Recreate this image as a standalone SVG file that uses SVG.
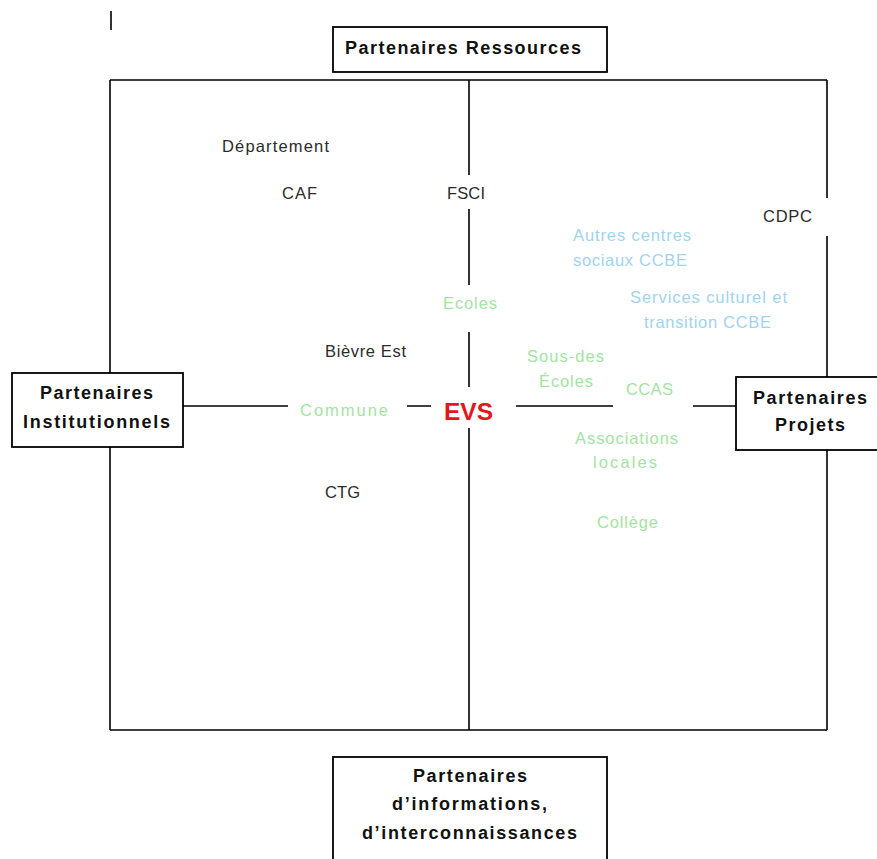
<svg xmlns="http://www.w3.org/2000/svg" width="877" height="859" viewBox="0 0 877 859">
<style>
.ln{stroke:#000;stroke-width:1.6;fill:none}
.box{fill:#fff;stroke:#000;stroke-width:1.8}
.h{font-family:"Liberation Sans",Arial,sans-serif;font-weight:bold;font-size:18px;fill:#111}
.t{font-family:"Liberation Sans",Arial,sans-serif;font-size:16.5px}
.k{fill:#2b2b2b}
.g{fill:#a3e4a3}
.b{fill:#9fd4f0}
.evs{font-family:"Liberation Sans",Arial,sans-serif;font-weight:bold;font-size:23px;fill:#e8141c}
</style>
<rect width="877" height="859" fill="#fff"/>
<g id="connectors">
<line class="ln" x1="111" y1="11" x2="111" y2="30"/>
<path class="ln" d="M110,80 H827 M110,730 H827"/>
<path class="ln" d="M110,80 V373 M110,447 V730"/>
<path class="ln" d="M827,80 V198 M827,236 V377 M827,450 V730"/>
<path class="ln" d="M469,80 V175 M469,209 V285 M469,332 V387 M469,428 V730"/>
<path class="ln" d="M183,406 H288 M407,406 H431 M516,406 H613 M693,406 H736"/>
</g>
<g id="node-ressources">
<rect class="box" x="333" y="27" width="274" height="45"/>
<text class="h" x="345" y="54" textLength="236" lengthAdjust="spacing" font-size="18.5">Partenaires Ressources</text>
</g>
<g id="node-institutionnels">
<rect class="box" x="12" y="373" width="171" height="74"/>
<text class="h" x="40" y="399" textLength="113" lengthAdjust="spacing">Partenaires</text>
<text class="h" x="23" y="428" textLength="147" lengthAdjust="spacing">Institutionnels</text>
</g>
<g id="node-projets">
<rect class="box" x="736" y="377" width="150" height="73"/>
<text class="h" x="753" y="404" textLength="114" lengthAdjust="spacing">Partenaires</text>
<text class="h" x="775" y="431" textLength="70" lengthAdjust="spacing">Projets</text>
</g>
<g id="node-informations">
<rect class="box" x="333" y="757" width="274" height="120"/>
<text class="h" x="413" y="782" textLength="114" lengthAdjust="spacing">Partenaires</text>
<text class="h" x="392" y="810" textLength="155" lengthAdjust="spacing">d’informations,</text>
<text class="h" x="362" y="839" textLength="215" lengthAdjust="spacing">d’interconnaissances</text>
</g>
<g id="node-evs">
<text class="evs" x="444" y="420" textLength="49" lengthAdjust="spacingAndGlyphs">EVS</text>
</g>
<g id="node-departement"><text class="t k" x="222" y="152" textLength="107" lengthAdjust="spacing">Département</text></g>
<g id="node-caf"><text class="t k" x="282" y="199" textLength="35" lengthAdjust="spacing">CAF</text></g>
<g id="node-fsci"><text class="t k" x="447" y="199" textLength="38" lengthAdjust="spacing">FSCI</text></g>
<g id="node-cdpc"><text class="t k" x="763" y="222" textLength="49" lengthAdjust="spacing">CDPC</text></g>
<g id="node-bievre"><text class="t k" x="325" y="357" textLength="81" lengthAdjust="spacing">Bièvre Est</text></g>
<g id="node-ctg"><text class="t k" x="325" y="498" textLength="35" lengthAdjust="spacing">CTG</text></g>
<g id="node-autres">
<text class="t b" x="573" y="241" textLength="118" lengthAdjust="spacing">Autres centres</text>
<text class="t b" x="573" y="266" textLength="114" lengthAdjust="spacing">sociaux CCBE</text>
</g>
<g id="node-services">
<text class="t b" x="630" y="303" textLength="157" lengthAdjust="spacing">Services culturel et</text>
<text class="t b" x="644" y="328" textLength="127" lengthAdjust="spacing">transition CCBE</text>
</g>
<g id="node-ecoles"><text class="t g" x="443" y="309" textLength="54" lengthAdjust="spacing">Ecoles</text></g>
<g id="node-sousdes">
<text class="t g" x="527" y="362" textLength="77" lengthAdjust="spacing">Sous-des</text>
<text class="t g" x="539" y="387" textLength="54" lengthAdjust="spacing">Écoles</text>
</g>
<g id="node-ccas"><text class="t g" x="626" y="395" textLength="47" lengthAdjust="spacing">CCAS</text></g>
<g id="node-commune"><text class="t g" x="300" y="416" textLength="88" lengthAdjust="spacing">Commune</text></g>
<g id="node-associations">
<text class="t g" x="575" y="444" textLength="103" lengthAdjust="spacing">Associations</text>
<text class="t g" x="593" y="468" textLength="64" lengthAdjust="spacing">locales</text>
</g>
<g id="node-college"><text class="t g" x="597" y="528" textLength="61" lengthAdjust="spacing">Collège</text></g>
</svg>
